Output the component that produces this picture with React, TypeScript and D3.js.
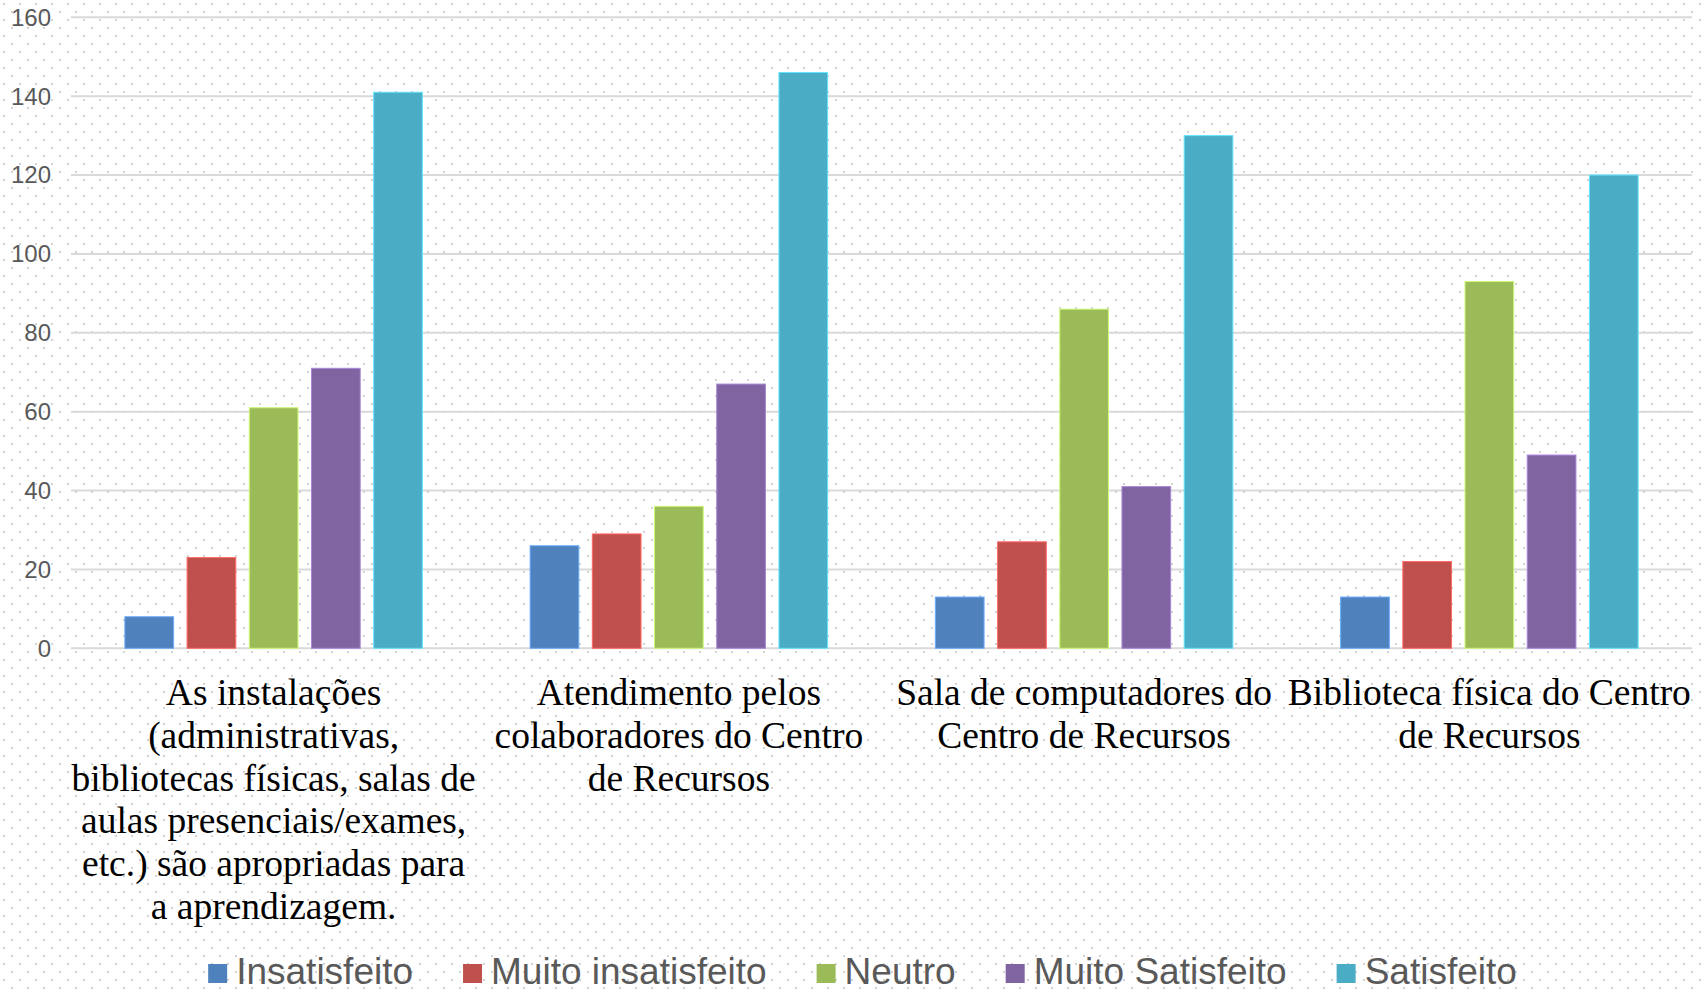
import React, { useEffect, useRef } from "react";
import * as d3 from "d3";

const categories = [
  "As instalações (administrativas, bibliotecas físicas, salas de aulas presenciais/exames, etc.) são apropriadas para a aprendizagem.",
  "Atendimento pelos colaboradores do Centro de Recursos",
  "Sala de computadores do Centro de Recursos",
  "Biblioteca física do Centro de Recursos",
];
const categoryLines = [
  ["As instalações", "(administrativas,", "bibliotecas físicas, salas de", "aulas presenciais/exames,", "etc.) são apropriadas para", "a aprendizagem."],
  ["Atendimento pelos", "colaboradores do Centro", "de Recursos"],
  ["Sala de computadores do", "Centro de Recursos"],
  ["Biblioteca física do Centro", "de Recursos"],
];
const seriesNames = ["Insatisfeito", "Muito insatisfeito", "Neutro", "Muito Satisfeito", "Satisfeito"];
const insatisfeito = [8, 26, 13, 13];
const muitoInsatisfeito = [23, 29, 27, 22];
const neutro = [61, 36, 86, 93];
const muitoSatisfeito = [71, 67, 41, 49];
const satisfeito = [141, 146, 130, 120];
const seriesValues = [insatisfeito, muitoInsatisfeito, neutro, muitoSatisfeito, satisfeito];
const seriesColors = ["#4F81BD", "#C0504D", "#9BBB59", "#8064A2", "#4BACC6"];
const yTicks = [0, 20, 40, 60, 80, 100, 120, 140, 160];

const W = 1707;
const H = 990;

export default function App() {
  const ref = useRef<SVGSVGElement | null>(null);

  useEffect(() => {
    const svg = d3.select(ref.current);
    svg.selectAll("*").remove();

    const defs = svg.append("defs");
    const pat = defs
      .append("pattern")
      .attr("id", "dots")
      .attr("width", 16)
      .attr("height", 16)
      .attr("patternUnits", "userSpaceOnUse");
    pat.append("rect").attr("x", 3).attr("y", 3).attr("width", 2).attr("height", 2).attr("fill", "#d2d2d2");
    pat.append("rect").attr("x", 11).attr("y", 11).attr("width", 2).attr("height", 2).attr("fill", "#d2d2d2");

    svg.append("rect").attr("width", W).attr("height", H).attr("fill", "#ffffff");
    svg.append("rect").attr("width", W).attr("height", H).attr("fill", "url(#dots)");

    const left = 71;
    const right = 1692;
    const y = d3.scaleLinear().domain([0, 160]).range([648.3, 17.3]);
    const x0 = d3.scaleBand<number>().domain(d3.range(categories.length)).range([left, right]).padding(0);
    const x1 = d3
      .scaleBand<number>()
      .domain(d3.range(seriesNames.length))
      .range([0, x0.bandwidth()])
      .paddingInner(0.217)
      .paddingOuter(0.866);

    // gridlines
    const grid = svg.append("g");
    yTicks.forEach((t) => {
      grid
        .append("line")
        .attr("x1", left)
        .attr("x2", right)
        .attr("y1", y(t))
        .attr("y2", y(t))
        .attr("stroke", "#d9d9d9")
        .attr("stroke-width", 2);
      svg
        .append("text")
        .attr("x", 51)
        .attr("y", y(t))
        .attr("dy", "0.35em")
        .attr("text-anchor", "end")
        .attr("font-family", "'Liberation Sans', Arial, sans-serif")
        .attr("font-size", 24)
        .attr("fill", "#595959")
        .text(String(t));
    });

    // bars
    categories.forEach((_, ci) => {
      const g = svg.append("g").attr("transform", `translate(${x0(ci)},0)`);
      seriesValues.forEach((vals, si) => {
        g.append("rect")
          .attr("x", x1(si)!)
          .attr("y", y(vals[ci]))
          .attr("width", x1.bandwidth())
          .attr("height", y(0) - y(vals[ci]))
          .attr("fill", seriesColors[si])
          .attr("stroke", d3.color(seriesColors[si])!.brighter(0.8).formatHex())
          .attr("stroke-width", 1);
      });
    });

    // category labels
    categoryLines.forEach((lines, ci) => {
      const cx = x0(ci)! + x0.bandwidth() / 2;
      const t = svg
        .append("text")
        .attr("text-anchor", "middle")
        .attr("font-family", "'Liberation Serif', 'Times New Roman', serif")
        .attr("font-size", 37.5)
        .attr("fill", "#000000");
      lines.forEach((ln, li) => {
        t.append("tspan").attr("x", cx).attr("y", 705 + li * 42.8).text(ln);
      });
    });

    // legend
    const lg = svg.append("g");
    const items: { g: any; w: number }[] = [];
    seriesNames.forEach((name, si) => {
      const g = lg.append("g");
      g.append("rect").attr("x", 0).attr("y", 964).attr("width", 19).attr("height", 19).attr("fill", seriesColors[si]);
      const tx = g
        .append("text")
        .attr("x", 28)
        .attr("y", 984)
        .attr("font-family", "'Liberation Sans', Arial, sans-serif")
        .attr("font-size", 37)
        .attr("fill", "#595959")
        .text(name);
      const w = 28 + (tx.node() as SVGTextElement).getComputedTextLength();
      items.push({ g, w });
    });
    const gap = 50;
    const total = d3.sum(items, (d) => d.w) + gap * (items.length - 1);
    let cur = 862.5 - total / 2;
    items.forEach((it) => {
      it.g.attr("transform", `translate(${cur},0)`);
      cur += it.w + gap;
    });
  }, []);

  return (
    <svg
      ref={ref}
      width={W}
      height={H}
      style={{ position: "absolute", left: 0, top: 0, display: "block" }}
    />
  );
}
